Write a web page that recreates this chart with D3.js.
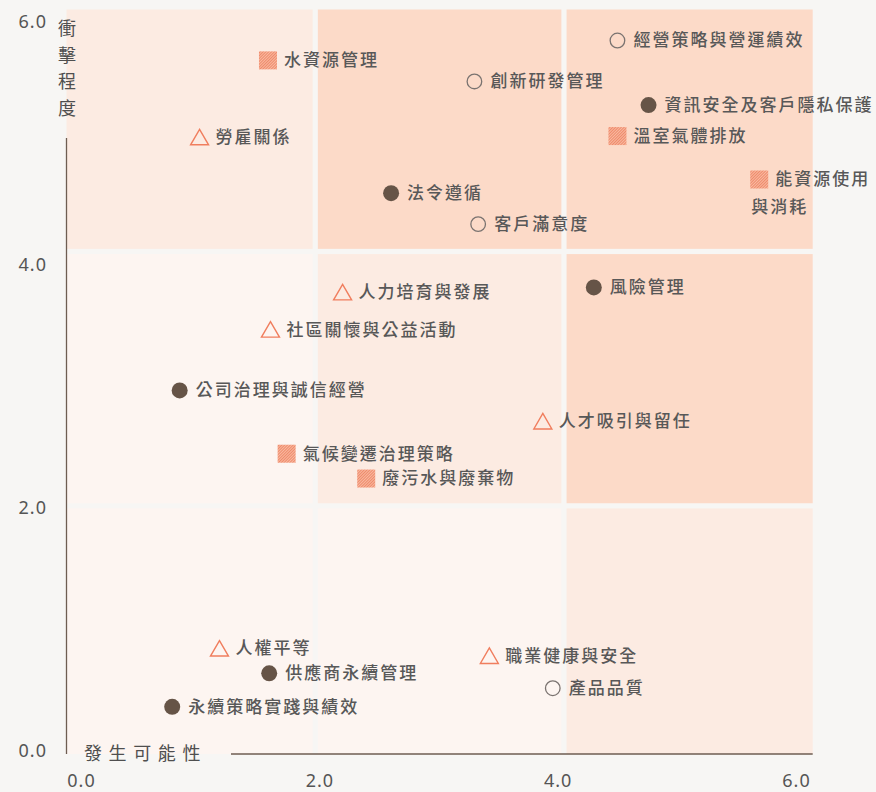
<!DOCTYPE html>
<html>
<head>
<meta charset="utf-8">
<script src="https://cdn.jsdelivr.net/npm/d3@7/dist/d3.min.js"></script>
<style>
  html, body { margin: 0; padding: 0; background: #f7f6f4; }
  svg { display: block; }
</style>
</head>
<body>
<div id="chart"></div>
<script>
// ---- data ----
const issues = [
  "水資源管理", "勞雇關係", "創新研發管理", "經營策略與營運績效", "資訊安全及客戶隱私保護",
  "溫室氣體排放", "能資源使用\n與消耗", "法令遵循", "客戶滿意度", "人力培育與發展",
  "風險管理", "社區關懷與公益活動", "公司治理與誠信經營", "人才吸引與留任", "氣候變遷治理策略",
  "廢污水與廢棄物", "人權平等", "供應商永續管理", "職業健康與安全", "產品品質", "永續策略實踐與績效"
];
const likelihood = [1.62, 1.07, 3.28, 4.43, 4.68, 4.43, 5.57, 2.61, 3.31, 2.22, 4.24, 1.64, 0.91, 3.83, 1.77, 2.41, 1.23, 1.63, 3.40, 3.91, 0.85];
const impact     = [5.59, 4.97, 5.42, 5.75, 5.23, 4.98, 4.63, 4.52, 4.27, 3.72, 3.76, 3.42, 2.93, 2.68, 2.42, 2.22, 0.85, 0.65, 0.79, 0.53, 0.38];
// marker groups: env = hatched square, soc = triangle, cust = open circle, gov = filled circle
const group = ["env", "soc", "cust", "cust", "gov", "env", "env", "gov", "cust", "soc", "gov", "soc", "gov", "soc", "env", "env", "soc", "gov", "soc", "cust", "gov"];

const xBounds = [0, 2, 4, 6];
const yBounds = [0, 2, 4.05, 6];
// shade levels per cell, rows from bottom (impact 0-2) to top
const shade = [
  [0, 0, 1],
  [0, 1, 2],
  [1, 2, 2]
];
const xTicks = [0, 2, 4, 6];
const yTicks = [0, 2, 4, 6];
const xTitle = "發生可能性";
const yTitle = "衝擊程度";

// ---- layout ----
const W = 876, H = 792;
const shadeColor = ["#fdf5f1", "#fcebe2", "#fcdac8"];
const x = d3.scaleLinear().domain([0, 6]).range([66.5, 812.7]);
const y = d3.scaleLinear().domain([0, 6]).range([754, 9.5]);
const xLab = x.copy().range([81, 796]);
const yLab = y.copy().range([751, 21.5]);

const svg = d3.select("#chart").append("svg").attr("width", W).attr("height", H);
svg.append("rect").attr("width", W).attr("height", H).attr("fill", "#f7f6f4");

const defs = svg.append("defs");
const pat = defs.append("pattern").attr("id", "hatch").attr("patternUnits", "userSpaceOnUse")
  .attr("width", 2).attr("height", 2).attr("patternTransform", "rotate(45)");
pat.append("rect").attr("width", 2).attr("height", 2).attr("fill", "#f9b9a1");
pat.append("rect").attr("width", 1).attr("height", 2).attr("fill", "#ee8a6a");

// cells
const gap = 2.6;
const cells = [];
for (let r = 0; r < 3; r++) for (let c = 0; c < 3; c++) cells.push({ r, c, s: shade[r][c] });
svg.append("g").selectAll("rect").data(cells).join("rect")
  .attr("x", d => x(xBounds[d.c]) + (d.c > 0 ? gap : 0))
  .attr("width", d => x(xBounds[d.c + 1]) - (d.c < 2 ? gap : 0) - (x(xBounds[d.c]) + (d.c > 0 ? gap : 0)))
  .attr("y", d => y(yBounds[d.r + 1]) + (d.r < 2 ? gap : 0))
  .attr("height", d => y(yBounds[d.r]) - (d.r > 0 ? gap : 0) - (y(yBounds[d.r + 1]) + (d.r < 2 ? gap : 0)))
  .attr("fill", d => shadeColor[d.s]);

// axes lines
const axisColor = "#6e5d52";
svg.append("line").attr("x1", x(0)).attr("x2", x(0)).attr("y1", 138).attr("y2", y(0))
  .attr("stroke", axisColor).attr("stroke-width", 1.3);
svg.append("line").attr("x1", 231).attr("x2", x(6)).attr("y1", y(0)).attr("y2", y(0))
  .attr("stroke", axisColor).attr("stroke-width", 1.3);

// tick labels via d3 axes
const fmt = d3.format(".1f");
const gx = svg.append("g").attr("transform", `translate(0, 781)`)
  .call(d3.axisBottom(xLab).tickValues(xTicks).tickFormat(fmt).tickSize(0).tickPadding(0));
gx.select(".domain").remove();
gx.selectAll("text").attr("dy", "0.35em");
const gy = svg.append("g").attr("transform", `translate(47, 0)`)
  .call(d3.axisLeft(yLab).tickValues(yTicks).tickFormat(fmt).tickSize(0).tickPadding(0));
gy.select(".domain").remove();
svg.selectAll(".tick text")
  .attr("font-family", "'Noto Sans', 'Noto Sans CJK TC', sans-serif")
  .attr("font-size", 18).attr("fill", "#555").attr("letter-spacing", "1px");

// axis titles
svg.append("text").attr("x", 84).attr("y", 754).attr("dy", "0.35em")
  .attr("font-family", "'Noto Sans CJK TC', sans-serif").attr("font-size", 18)
  .attr("letter-spacing", "6.6px").attr("fill", "#4f4f4f").text(xTitle);
svg.append("g").selectAll("text").data(Array.from(yTitle)).join("text")
  .attr("x", 67).attr("y", (d, i) => 28.5 + i * 26.7).attr("dy", "0.35em").attr("text-anchor", "middle")
  .attr("font-family", "'Noto Sans CJK TC', sans-serif").attr("font-size", 18)
  .attr("fill", "#4f4f4f").text(d => d);

// points
const pts = issues.map((name, i) => ({ name, lx: likelihood[i], iy: impact[i], g: group[i] }));
const pg = svg.append("g").selectAll("g").data(pts).join("g")
  .attr("transform", d => `translate(${x(d.lx)},${y(d.iy)})`);

pg.each(function (d) {
  const g = d3.select(this);
  if (d.g === "env") {
    g.append("rect").attr("x", -9).attr("y", -9).attr("width", 18).attr("height", 18).attr("fill", "url(#hatch)");
  } else if (d.g === "soc") {
    g.append("path").attr("d", "M0,-8 L9,7.5 L-9,7.5 Z").attr("fill", "none")
      .attr("stroke", "#f07e5e").attr("stroke-width", 1.4);
  } else if (d.g === "cust") {
    g.append("circle").attr("r", 7.3).attr("fill", "none").attr("stroke", "#7a7370").attr("stroke-width", 1.3);
  } else {
    g.append("circle").attr("r", 8).attr("fill", "#665447");
  }
  const lines = d.name.split("\n");
  const t = g.append("text").attr("font-family", "'Noto Sans CJK TC', sans-serif")
    .attr("font-size", 17).attr("font-weight", 500).attr("letter-spacing", "2px").attr("fill", "#585858");
  lines.forEach((ln, k) => {
    t.append("tspan").attr("x", k === 0 ? 16 : -8).attr("y", k * 28).attr("dy", "0.35em").text(ln);
  });
});
</script>
</body>
</html>
